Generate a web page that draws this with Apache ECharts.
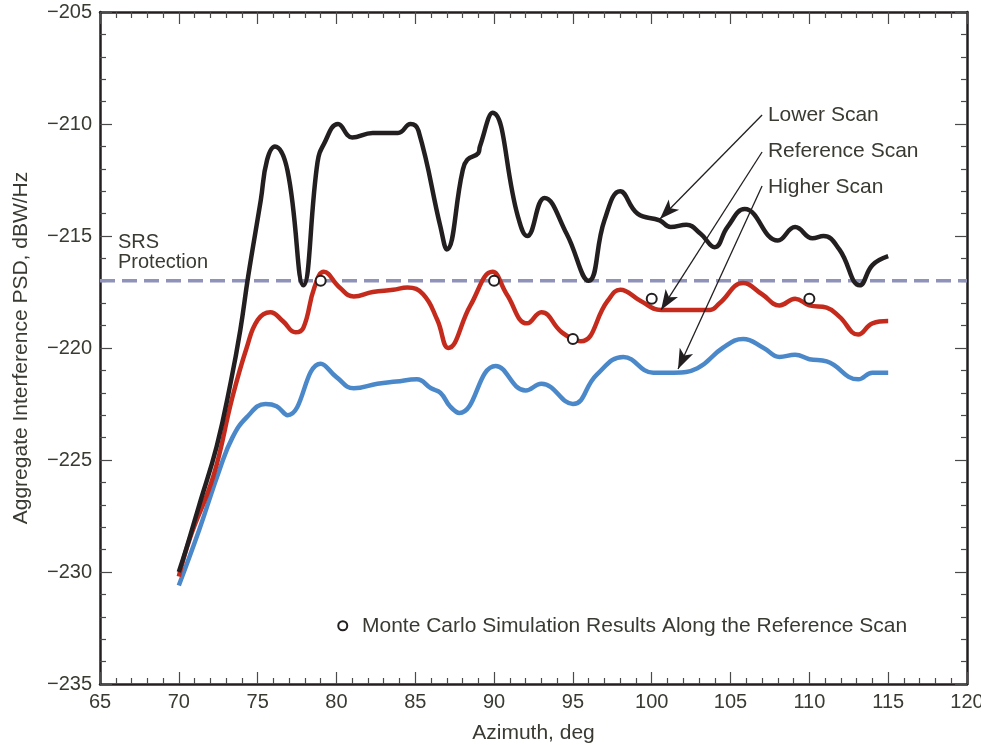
<!DOCTYPE html>
<html>
<head>
<meta charset="utf-8">
<script src="https://cdn.jsdelivr.net/npm/echarts@6/dist/echarts.min.js"></script>
<style>
html,body{margin:0;padding:0;background:#fff;}
#c{width:981px;height:745px;}
</style>
</head>
<body>
<div id="c"></div>
<script>
// ---- data (azimuth in deg, PSD in dBW/Hz) ----
const lowerAz = [70.0,70.5,71.3,72.4,73.3,73.9,74.4,75.2,75.6,76.1,76.9,77.9,78.8,79.2,80.1,81.0,82.3,83.9,84.7,85.2,86.6,87.0,88.0,88.3,89.0,89.1,89.9,91.5,92.1,93.2,94.6,96.0,97.0,98.0,99.1,100.5,101.2,102.2,103.1,104.0,104.8,105.9,108.0,109.1,110.2,110.9,111.9,113.2,114.0,115.0];
const lowerPsd = [-230.0,-228.9,-227.0,-224.4,-221.5,-219.2,-216.8,-213.4,-211.6,-211.0,-212.1,-217.2,-211.7,-210.9,-210.0,-210.6,-210.4,-210.4,-210.0,-210.3,-214.6,-215.6,-212.1,-211.6,-211.3,-211.0,-209.5,-214.1,-215.0,-213.3,-214.9,-217.0,-214.3,-213.0,-214.0,-214.3,-214.6,-214.5,-214.9,-215.5,-214.6,-213.8,-215.2,-214.6,-215.1,-215.0,-215.6,-217.2,-216.3,-215.9];

const refAz = [70.0,70.7,72.2,73.4,74.3,75.0,75.8,76.6,77.4,77.9,78.6,79.2,80.2,81.1,82.3,83.6,84.5,85.5,86.4,87.1,88.5,89.9,90.8,92.1,93.0,94.3,95.5,97.2,98.0,99.3,100.6,102.4,103.7,104.3,105.8,107.0,108.1,109.1,110.0,111.1,111.9,113.1,114.0,115.0];
const refPsd = [-230.2,-228.5,-225.7,-222.2,-220.0,-218.75,-218.4,-218.8,-219.3,-219.1,-217.3,-216.6,-217.3,-217.7,-217.5,-217.4,-217.3,-217.6,-218.75,-220.0,-218.1,-216.6,-217.6,-218.9,-218.4,-219.3,-219.7,-217.9,-217.4,-217.9,-218.3,-218.3,-218.3,-218.0,-217.1,-217.6,-218.1,-217.8,-218.1,-218.2,-218.6,-219.4,-218.9,-218.8];

const higherAz = [70.0,71.3,72.6,73.4,74.3,75.5,76.2,76.9,79.0,80.0,81.1,82.6,83.8,85.1,86.0,86.6,87.2,87.8,90.1,92.0,93.0,95.0,96.5,98.2,100.1,101.4,102.9,104.5,105.8,107.1,108.1,109.1,110.0,111.1,113.1,114.0,115.0];
const higherPsd = [-230.6,-228.1,-225.4,-224.0,-223.1,-222.5,-222.6,-223.0,-220.7,-221.3,-221.8,-221.6,-221.5,-221.4,-221.8,-222.0,-222.6,-222.9,-220.8,-221.9,-221.6,-222.5,-221.2,-220.4,-221.1,-221.1,-220.9,-220.0,-219.6,-220.0,-220.4,-220.3,-220.5,-220.6,-221.4,-221.1,-221.1];

const mcAz = [79, 90, 95, 100, 110];
const mcPsd = [-217.0, -217.0, -219.6, -217.8, -217.8];

const srsLevel = -217;
const xTicks = {min: 65, max: 120, step: 5};
const yTicks = {min: -235, max: -205, step: 5};

// annotation anchors (data coords)
const scanNames = ['Lower Scan', 'Reference Scan', 'Higher Scan'];
const labelAnchor = [[107.37, -209.6], [107.37, -211.2], [107.37, -212.8]];
const arrowStart = [[107.0, -209.6], [107.0, -211.25], [107.0, -212.77]];
const arrowTip = [[100.52, -214.24], [100.59, -218.3], [101.67, -220.94]];
const srsLabel = ['SRS', 'Protection'];
const srsAnchor = [[66.14, -215.3], [66.14, -216.2]];
const legendText = 'Monte Carlo Simulation Results Along the Reference Scan';
const legendMarker = [80.4, -232.4];
const legendTextAnchor = [81.62, -232.4];

// ---- chart ----
const zip = (a, b) => a.map((v, i) => [v, b[i]]);
const INK = '#231f20';
const TXT = '#3a3a32';
const FONT = '"Liberation Sans", Arial, Helvetica, sans-serif';

function axisCommon(showLabel) {
  return {
    axisLine: {show: true, onZero: false, lineStyle: {color: INK, width: 2.5}},
    axisTick: {show: true, inside: true, length: 12, lineStyle: {color: '#4a4a4a', width: 1.2}},
    minorTick: {show: true, splitNumber: 5, length: 6, lineStyle: {color: '#4a4a4a', width: 1.2}},
    splitLine: {show: false},
    axisLabel: {show: showLabel, color: TXT, fontSize: 20, fontFamily: FONT}
  };
}

const chart = echarts.init(document.getElementById('c'), null, {renderer: 'canvas'});

const SM = 0.45;
const option = {
  animation: false,
  backgroundColor: '#fff',
  grid: {left: 100, right: 14, top: 12, bottom: 61, containLabel: false, outerBoundsMode: 'none'},
  xAxis: [
    Object.assign({type: 'value', min: xTicks.min, max: xTicks.max, interval: xTicks.step, position: 'bottom',
      name: 'Azimuth, deg', nameLocation: 'middle', nameGap: 39,
      nameTextStyle: {color: TXT, fontSize: 21, fontFamily: FONT}}, axisCommon(true),
      {axisLabel: {show: true, color: TXT, fontSize: 20, fontFamily: FONT, margin: 8}}),
    Object.assign({type: 'value', min: xTicks.min, max: xTicks.max, interval: xTicks.step, position: 'top'}, axisCommon(false))
  ],
  yAxis: [
    Object.assign({type: 'value', min: yTicks.min, max: yTicks.max, interval: yTicks.step, position: 'left',
      name: 'Aggregate Interference PSD, dBW/Hz', nameLocation: 'middle', nameGap: 68,
      nameTextStyle: {color: TXT, fontSize: 21, fontFamily: FONT}}, axisCommon(true),
      {axisLabel: {show: true, color: TXT, fontSize: 20, fontFamily: FONT, margin: 8,
        formatter: v => (v < 0 ? '\u2212' + Math.abs(v) : String(v))}}),
    Object.assign({type: 'value', min: yTicks.min, max: yTicks.max, interval: yTicks.step, position: 'right'}, axisCommon(false))
  ],
  series: [
    {
      name: 'SRS Protection', type: 'line', data: [[xTicks.min, srsLevel], [xTicks.max, srsLevel]],
      symbol: 'none', lineStyle: {color: '#8f92b9', width: 3.5, type: [15, 7]}, z: 1, silent: true
    },
    {
      name: 'Higher Scan', type: 'line', data: zip(higherAz, higherPsd), smooth: SM,
      symbol: 'none', lineStyle: {color: '#4a88c9', width: 4.5}, z: 2
    },
    {
      name: 'Reference Scan', type: 'line', data: zip(refAz, refPsd), smooth: SM,
      symbol: 'none', lineStyle: {color: '#c52b1d', width: 4.5}, z: 3
    },
    {
      name: 'Lower Scan', type: 'line', data: zip(lowerAz, lowerPsd), smooth: SM,
      symbol: 'none', lineStyle: {color: INK, width: 4.5}, z: 4,
      markLine: {
        silent: true, symbol: ['none', 'arrow'], symbolSize: [11, 20],
        lineStyle: {color: INK, width: 1.3, type: 'solid'}, label: {show: false},
        data: arrowStart.map((s, i) => [{coord: s}, {coord: arrowTip[i]}])
      }
    },
    {
      name: 'Monte Carlo', type: 'scatter', data: zip(mcAz, mcPsd), symbol: 'circle', symbolSize: 10,
      itemStyle: {color: '#fff', borderColor: INK, borderWidth: 2, opacity: 1}, z: 6
    }
  ]
};
chart.setOption(option);

function px(pt) { return chart.convertToPixel({xAxisIndex: 0, yAxisIndex: 0}, pt); }
const g = [];
scanNames.forEach((t, i) => {
  const p = px(labelAnchor[i]);
  g.push({type: 'text', x: p[0], y: p[1], z: 10,
    style: {text: t, fill: TXT, font: '21px ' + FONT, textAlign: 'left', textVerticalAlign: 'middle', verticalAlign: 'middle'}});
});
srsLabel.forEach((t, i) => {
  const p = px(srsAnchor[i]);
  g.push({type: 'text', x: p[0], y: p[1], z: 10,
    style: {text: t, fill: TXT, font: '20px ' + FONT, textAlign: 'left', textVerticalAlign: 'middle', verticalAlign: 'middle'}});
});
const lm = px(legendMarker);
g.push({type: 'circle', shape: {cx: lm[0], cy: lm[1], r: 4.5}, style: {fill: '#fff', stroke: INK, lineWidth: 2}, z: 10});
const lt = px(legendTextAnchor);
g.push({type: 'text', x: lt[0], y: lt[1], z: 10,
  style: {text: legendText, fill: TXT, font: '21px ' + FONT, textAlign: 'left', textVerticalAlign: 'middle', verticalAlign: 'middle'}});
chart.setOption({graphic: g});
</script>
</body>
</html>
